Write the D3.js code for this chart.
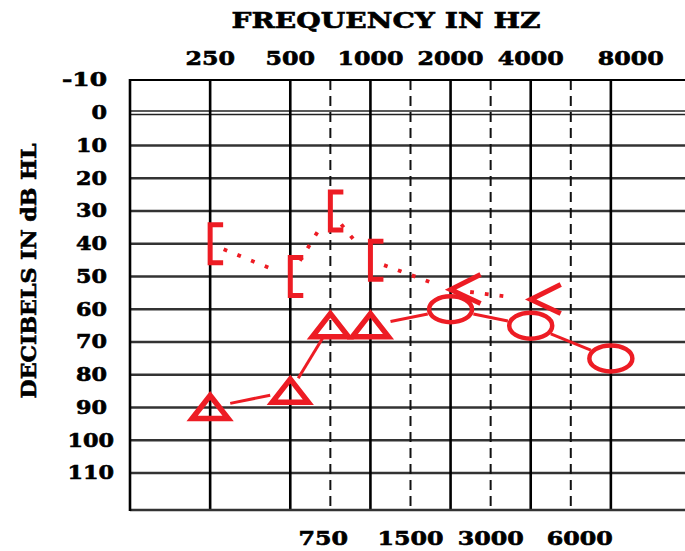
<body style="margin:0;background:#fff">

<script src="https://d3js.org/d3.v7.min.js"></script>

<script>
// audiogram, right ear
var svgWidth = 685;
var svgHeight = 551;

// chart data
var mainFreqs = [250, 500, 1000, 2000, 4000, 8000]; // octave lines, labels on top
var midFreqs = [750, 1500, 3000, 6000];             // dashed lines, labels at bottom
var dbTicks = [-10, 0, 10, 20, 30, 40, 50, 60, 70, 80, 90, 100, 110];

// bone conduction ( [ and < ), dotted line
var boneFreqs = [250, 500, 750, 1000, 2000, 4000];
var boneDb = [40, 50, 30, 45, 54, 57];
var boneSymbols = ['bracket', 'bracket', 'bracket', 'bracket', 'less', 'less'];

// air conduction (triangles and circles), solid line
var airFreqs = [250, 500, 750, 1000, 2000, 4000, 8000];
var airDb = [90, 85, 65, 65, 60, 65, 75];
var airSymbols = ['tri', 'tri', 'tri', 'tri', 'circle', 'circle', 'circle'];

var red = '#ed1c24';
var font = '"DejaVu Serif", "Liberation Serif", serif';

// octave position: 250=0, 500=1 ... half-octave for 750, 1500 ...
function octave(f) {
	var o = Math.log2(f / 250);
	var b = Math.floor(o + 1e-9);
	return b + (o - b > 0.01 ? 0.5 : 0);
}

var x = d3.scaleLinear().domain([-1, 6]).range([130, 691]);
var y = d3.scaleLinear().domain([-10, 110]).range([80, 473]);
var plotLeft = x(-1);
var plotRight = svgWidth;
var plotTop = y(-10);
var plotBottom = y(121.3);

var svg = d3.select('body').append('svg')
	.attr('width', svgWidth)
	.attr('height', svgHeight);

// horizontal grid lines
svg.selectAll('line.h')
	.data(dbTicks.filter(function(d) { return d > 0; }))
	.enter().append('line')
	.attr('class', 'h')
	.attr('x1', plotLeft).attr('x2', plotRight)
	.attr('y1', function(d) { return y(d); })
	.attr('y2', function(d) { return y(d); })
	.attr('stroke', '#333')
	.attr('stroke-width', 2.6);

// the 0 dB line is doubled
svg.selectAll('line.zero')
	.data([-1.8, 1.8])
	.enter().append('line')
	.attr('class', 'zero')
	.attr('x1', plotLeft).attr('x2', plotRight)
	.attr('y1', function(d) { return y(0) + d; })
	.attr('y2', function(d) { return y(0) + d; })
	.attr('stroke', '#222')
	.attr('stroke-width', 1.6);

// dashed half-octave lines
svg.selectAll('line.mid')
	.data(midFreqs)
	.enter().append('line')
	.attr('class', 'mid')
	.attr('x1', function(d) { return x(octave(d)); })
	.attr('x2', function(d) { return x(octave(d)); })
	.attr('y1', plotTop).attr('y2', plotBottom)
	.attr('stroke', '#111')
	.attr('stroke-width', 2)
	.attr('stroke-dasharray', '10,6');

// solid octave lines
svg.selectAll('line.main')
	.data(mainFreqs)
	.enter().append('line')
	.attr('class', 'main')
	.attr('x1', function(d) { return x(octave(d)); })
	.attr('x2', function(d) { return x(octave(d)); })
	.attr('y1', plotTop).attr('y2', plotBottom)
	.attr('stroke', '#000')
	.attr('stroke-width', 2.6);

// borders
svg.append('line').attr('x1', plotLeft).attr('x2', plotRight).attr('y1', plotTop).attr('y2', plotTop)
	.attr('stroke', '#000').attr('stroke-width', 2.2);
svg.append('line').attr('x1', plotLeft).attr('x2', plotRight).attr('y1', plotBottom).attr('y2', plotBottom)
	.attr('stroke', '#333').attr('stroke-width', 2.6);
svg.append('line').attr('x1', plotLeft).attr('x2', plotLeft).attr('y1', plotTop - 1).attr('y2', plotBottom + 1)
	.attr('stroke', '#000').attr('stroke-width', 2.6);

// all text is heavy slab serif, thickened a bit with a stroke
function heavy(sel) {
	sel.attr('font-family', font).attr('font-weight', 'bold')
		.attr('fill', '#000').attr('stroke', '#000').attr('stroke-width', 0.6)
		.attr('lengthAdjust', 'spacingAndGlyphs');
}

// titles
svg.append('text')
	.attr('x', 386).attr('y', 28)
	.attr('text-anchor', 'middle')
	.attr('font-size', 22)
	.attr('textLength', 309)
	.call(heavy)
	.text('FREQUENCY IN HZ');

svg.append('text')
	.attr('transform', 'translate(36,271) rotate(-90)')
	.attr('text-anchor', 'middle')
	.attr('font-size', 20)
	.attr('textLength', 255)
	.call(heavy)
	.text('DECIBELS IN dB HL');

// frequency labels
svg.selectAll('text.top')
	.data(mainFreqs)
	.enter().append('text')
	.attr('class', 'top')
	.attr('x', function(d) { return x(octave(d)) + (d == 8000 ? 20 : 0); })
	.attr('y', 65)
	.attr('text-anchor', 'middle')
	.attr('font-size', 18)
	.attr('textLength', function(d) { return String(d).length * 16.5; })
	.call(heavy)
	.text(function(d) { return d; });

svg.selectAll('text.bot')
	.data(midFreqs)
	.enter().append('text')
	.attr('class', 'bot')
	.attr('x', function(d) { return x(octave(d)) + (d == 6000 ? 9 : d == 750 ? -7 : 0); })
	.attr('y', 545)
	.attr('text-anchor', 'middle')
	.attr('font-size', 18)
	.attr('textLength', function(d) { return String(d).length * 16.5; })
	.call(heavy)
	.text(function(d) { return d; });

// dB labels
svg.selectAll('text.db')
	.data(dbTicks)
	.enter().append('text')
	.attr('class', 'db')
	.attr('x', function(d) { return d >= 100 ? 114 : 107; })
	.attr('y', function(d) { return y(d); })
	.attr('dy', '0.36em')
	.attr('text-anchor', 'end')
	.attr('font-size', 18)
	.attr('textLength', function(d) { return d < 0 ? 45 : String(d).length * 15.5; })
	.call(heavy)
	.text(function(d) { return d; });

// size of each symbol, used to stop the lines at its edge
var symbolSize = {
	bracket: [12, 20],
	less: [18, 10],
	tri: [21, 14],
	circle: [24, 15]
};

function trimmedSegments(freqs, dbs, symbols, gap) {
	var segs = [];
	for (var i = 0; i < freqs.length - 1; i++) {
		var x1 = x(octave(freqs[i])), y1 = y(dbs[i]);
		var x2 = x(octave(freqs[i + 1])), y2 = y(dbs[i + 1]);
		var len = Math.hypot(x2 - x1, y2 - y1);
		var ux = (x2 - x1) / len, uy = (y2 - y1) / len;
		var s1 = symbolSize[symbols[i]], s2 = symbolSize[symbols[i + 1]];
		var r1 = 1 / Math.hypot(ux / s1[0], uy / s1[1]) + gap;
		var r2 = 1 / Math.hypot(ux / s2[0], uy / s2[1]) + gap;
		if (r1 + r2 < len) {
			segs.push([x1 + ux * r1, y1 + uy * r1, x2 - ux * r2, y2 - uy * r2]);
		}
	}
	return segs;
}

// dotted bone line
svg.selectAll('line.bone')
	.data(trimmedSegments(boneFreqs, boneDb, boneSymbols, 2))
	.enter().append('line')
	.attr('class', 'bone')
	.attr('x1', function(d) { return d[0]; })
	.attr('y1', function(d) { return d[1]; })
	.attr('x2', function(d) { return d[2]; })
	.attr('y2', function(d) { return d[3]; })
	.attr('stroke', red)
	.attr('stroke-width', 3.8)
	.attr('stroke-dasharray', '3.8,11');

// solid air line
svg.selectAll('line.air')
	.data(trimmedSegments(airFreqs, airDb, airSymbols, 0))
	.enter().append('line')
	.attr('class', 'air')
	.attr('x1', function(d) { return d[0]; })
	.attr('y1', function(d) { return d[1]; })
	.attr('x2', function(d) { return d[2]; })
	.attr('y2', function(d) { return d[3]; })
	.attr('stroke', red)
	.attr('stroke-width', 3);

// symbols
function symbolPath(s, cx, cy) {
	if (s == 'bracket') {
		return 'M' + (cx + 13) + ',' + (cy - 19) + 'H' + cx + 'V' + (cy + 19) + 'H' + (cx + 13);
	}
	if (s == 'less') {
		return 'M' + (cx + 30) + ',' + (cy - 15) + 'L' + cx + ',' + cy + 'L' + (cx + 30) + ',' + (cy + 14);
	}
	if (s == 'tri') {
		return 'M' + cx + ',' + (cy - 12) + 'L' + (cx + 18) + ',' + (cy + 11) + 'L' + (cx - 18) + ',' + (cy + 11) + 'Z';
	}
	return '';
}

svg.selectAll('path.bone')
	.data(boneFreqs)
	.enter().append('path')
	.attr('class', 'bone')
	.attr('d', function(d, i) { return symbolPath(boneSymbols[i], x(octave(d)), y(boneDb[i])); })
	.attr('fill', 'none')
	.attr('stroke', red)
	.attr('stroke-width', 5);

svg.selectAll('path.air')
	.data(airFreqs.filter(function(d, i) { return airSymbols[i] == 'tri'; }))
	.enter().append('path')
	.attr('class', 'air')
	.attr('d', function(d, i) { return symbolPath('tri', x(octave(d)), y(airDb[i])); })
	.attr('fill', 'none')
	.attr('stroke', red)
	.attr('stroke-width', 5.5)
	.attr('stroke-linejoin', 'miter');

svg.selectAll('ellipse.air')
	.data(airFreqs.filter(function(d, i) { return airSymbols[i] == 'circle'; }))
	.enter().append('ellipse')
	.attr('class', 'air')
	.attr('cx', function(d) { return x(octave(d)); })
	.attr('cy', function(d) { return y(airDb[airFreqs.indexOf(d)]); })
	.attr('rx', 21.5)
	.attr('ry', 13)
	.attr('fill', 'none')
	.attr('stroke', red)
	.attr('stroke-width', 4.5);
</script>
</body>
